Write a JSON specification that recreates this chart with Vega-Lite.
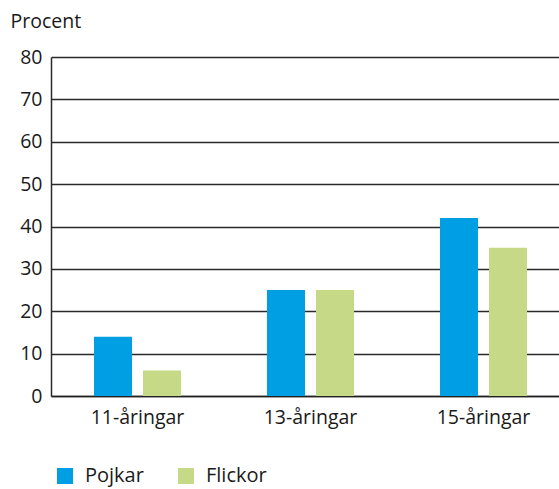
{
  "$schema": "https://vega.github.io/schema/vega-lite/v6.json",
  "autosize": "none",
  "width": 519,
  "height": 339,
  "padding": {"left": 51, "top": 57, "right": 0, "bottom": 93},
  "background": "white",
  "config": {
    "view": {"stroke": null},
    "font": "Open Sans",
    "axis": {"labelFont": "Open Sans", "titleFont": "Open Sans"},
    "legend": {"labelFont": "Open Sans"}
  },
  "data": {
    "values": [
      {"age": "11-åringar", "kon": "Pojkar", "value": 14},
      {"age": "11-åringar", "kon": "Flickor", "value": 6},
      {"age": "13-åringar", "kon": "Pojkar", "value": 25},
      {"age": "13-åringar", "kon": "Flickor", "value": 25},
      {"age": "15-åringar", "kon": "Pojkar", "value": 42},
      {"age": "15-åringar", "kon": "Flickor", "value": 35}
    ]
  },
  "mark": {"type": "bar"},
  "encoding": {
    "x": {
      "field": "age", "type": "nominal", "sort": null,
      "scale": {"paddingInner": 0, "paddingOuter": 0},
      "axis": {"title": null, "labelAngle": 0, "labelFontSize": 19.5, "labelColor": "#1a1a1a", "ticks": false, "domain": true, "domainColor": "#222", "domainWidth": 1.5, "labelPadding": 12}
    },
    "xOffset": {
      "field": "kon", "type": "nominal", "sort": ["Pojkar", "Flickor"],
      "scale": {"paddingInner": 0.2245, "paddingOuter": 0.877}
    },
    "y": {
      "field": "value", "type": "quantitative",
      "scale": {"domain": [0, 80]},
      "axis": {
        "values": [0, 10, 20, 30, 40, 50, 60, 70, 80],
        "title": "Procent", "titleAngle": 0, "titleAlign": "left", "titleBaseline": "alphabetic",
        "titleX": -41, "titleY": -30, "titleFontSize": 19.5, "titleFontWeight": "normal", "titleColor": "#1a1a1a",
        "labelFontSize": 19.5, "labelColor": "#1a1a1a", "ticks": false, "labelPadding": 9,
        "grid": true, "gridColor": "#2a2a2a", "gridWidth": 1.5,
        "domain": true, "domainColor": "#2a2a2a", "domainWidth": 1.5
      }
    },
    "color": {
      "field": "kon", "type": "nominal",
      "scale": {"domain": ["Pojkar", "Flickor"], "range": ["#009FE3", "#C5D987"]},
      "legend": {
        "title": null, "orient": "none", "direction": "horizontal",
        "legendX": 4, "legendY": 409,
        "symbolType": "square", "symbolSize": 256, "symbolStrokeWidth": 0,
        "labelFontSize": 20, "labelColor": "#1a1a1a", "labelOffset": 10, "columnPadding": 32
      }
    }
  }
}
